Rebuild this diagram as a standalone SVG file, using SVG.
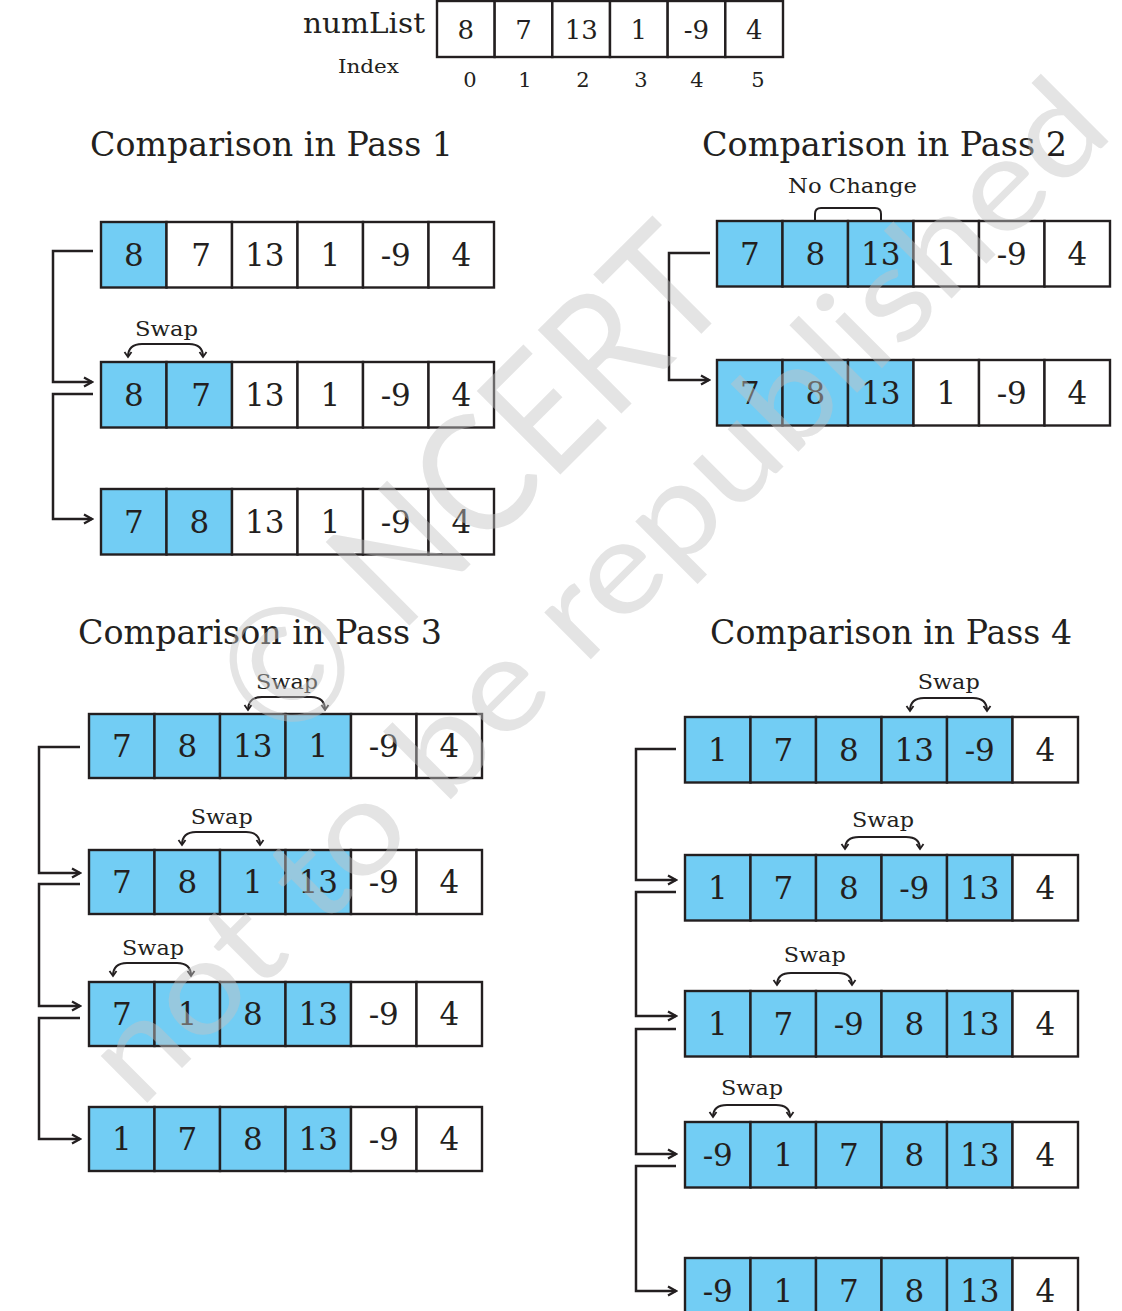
<svg xmlns="http://www.w3.org/2000/svg" xmlns:xlink="http://www.w3.org/1999/xlink" width="1122" height="1311" viewBox="0 0 1122 1311">
<style>
.cell{stroke:#231f20;stroke-width:2.4}
.b{fill:#72cdf4}
.w{fill:#ffffff}
.num{font-family:"DejaVu Serif",serif;font-size:31px;fill:#231f20;text-anchor:middle}
.tnum{font-family:"DejaVu Serif",serif;font-size:26px;fill:#231f20;text-anchor:middle}
.idx{font-family:"DejaVu Serif",serif;font-size:21px;fill:#231f20;text-anchor:middle}
.head{font-family:"DejaVu Serif",serif;font-size:33px;fill:#231f20}
.lbl{font-family:"DejaVu Serif",serif;font-size:21px;fill:#231f20;text-anchor:middle}
.conn{fill:none;stroke:#231f20;stroke-width:2.5}
.br{fill:none;stroke:#231f20;stroke-width:2}
.wm{font-family:"Lato","DejaVu Sans",sans-serif;font-weight:400;fill:#c4c4c4;opacity:0.45}
</style>
<defs>
<marker id="arr" viewBox="-10 -6 12 12" refX="0" refY="0" markerWidth="12" markerHeight="12" markerUnits="userSpaceOnUse" orient="auto">
<path d="M-8,-4.5 L0,0 L-8,4.5" fill="none" stroke="#231f20" stroke-width="2.2"/>
</marker>
<marker id="sarr" viewBox="-8 -5 10 10" refX="0" refY="0" markerWidth="10" markerHeight="10" markerUnits="userSpaceOnUse" orient="auto-start-reverse">
<path d="M-5,-3.5 L0,0 L-5,3.5" fill="none" stroke="#231f20" stroke-width="1.8"/>
</marker>
</defs>
<rect width="1122" height="1311" fill="#ffffff"/>

<g id="numList">
<text x="303" y="33" class="head" style="font-size:28px" textLength="122" lengthAdjust="spacingAndGlyphs">numList</text>
<text x="338" y="73" class="head" style="font-size:19px" textLength="61" lengthAdjust="spacingAndGlyphs">Index</text>
<g transform="translate(437,1)">
<rect class="cell w" x="0" y="0" width="57.67" height="56"/>
<rect class="cell w" x="57.67" y="0" width="57.67" height="56"/>
<rect class="cell w" x="115.33" y="0" width="57.67" height="56"/>
<rect class="cell w" x="173" y="0" width="57.67" height="56"/>
<rect class="cell w" x="230.67" y="0" width="57.67" height="56"/>
<rect class="cell w" x="288.33" y="0" width="57.67" height="56"/>
<text class="tnum" x="28.8" y="38">8</text>
<text class="tnum" x="86.5" y="38">7</text>
<text class="tnum" x="144.2" y="38">13</text>
<text class="tnum" x="201.8" y="38">1</text>
<text class="tnum" x="259.5" y="38">-9</text>
<text class="tnum" x="317.2" y="38">4</text>
</g>
<text class="idx" x="470" y="87">0</text>
<text class="idx" x="525" y="87">1</text>
<text class="idx" x="583" y="87">2</text>
<text class="idx" x="641" y="87">3</text>
<text class="idx" x="697" y="87">4</text>
<text class="idx" x="758" y="87">5</text>
</g>

<g id="headings">
<text class="head" x="90" y="156" textLength="363" lengthAdjust="spacingAndGlyphs">Comparison in Pass 1</text>
<text class="head" x="702" y="156" textLength="365" lengthAdjust="spacingAndGlyphs">Comparison in Pass 2</text>
<text class="head" x="78" y="644" textLength="364" lengthAdjust="spacingAndGlyphs">Comparison in Pass 3</text>
<text class="head" x="710" y="644" textLength="362" lengthAdjust="spacingAndGlyphs">Comparison in Pass 4</text>
</g>

<!-- Pass 1 -->
<g id="p1r1" transform="translate(101,222)">
<rect class="cell b" x="0" width="65.5" height="65.5"/><rect class="cell w" x="65.5" width="65.5" height="65.5"/><rect class="cell w" x="131" width="65.5" height="65.5"/><rect class="cell w" x="196.5" width="65.5" height="65.5"/><rect class="cell w" x="262" width="65.5" height="65.5"/><rect class="cell w" x="327.5" width="65.5" height="65.5"/>
<text class="num" x="32.75" y="44">8</text><text class="num" x="100" y="44">7</text><text class="num" x="163.75" y="44">13</text><text class="num" x="229.25" y="44">1</text><text class="num" x="294.75" y="44">-9</text><text class="num" x="360.25" y="44">4</text>
</g>
<g id="p1r2" transform="translate(101,362)">
<rect class="cell b" x="0" width="65.5" height="65.5"/><rect class="cell b" x="65.5" width="65.5" height="65.5"/><rect class="cell w" x="131" width="65.5" height="65.5"/><rect class="cell w" x="196.5" width="65.5" height="65.5"/><rect class="cell w" x="262" width="65.5" height="65.5"/><rect class="cell w" x="327.5" width="65.5" height="65.5"/>
<text class="num" x="32.75" y="44">8</text><text class="num" x="100" y="44">7</text><text class="num" x="163.75" y="44">13</text><text class="num" x="229.25" y="44">1</text><text class="num" x="294.75" y="44">-9</text><text class="num" x="360.25" y="44">4</text>
</g>
<g id="p1r3" transform="translate(101,489)">
<rect class="cell b" x="0" width="65.5" height="65.5"/><rect class="cell b" x="65.5" width="65.5" height="65.5"/><rect class="cell w" x="131" width="65.5" height="65.5"/><rect class="cell w" x="196.5" width="65.5" height="65.5"/><rect class="cell w" x="262" width="65.5" height="65.5"/><rect class="cell w" x="327.5" width="65.5" height="65.5"/>
<text class="num" x="32.75" y="44">7</text><text class="num" x="98.25" y="44">8</text><text class="num" x="163.75" y="44">13</text><text class="num" x="229.25" y="44">1</text><text class="num" x="294.75" y="44">-9</text><text class="num" x="360.25" y="44">4</text>
</g>

<!-- Pass 2 -->
<g id="p2r1" transform="translate(717,221)">
<rect class="cell b" x="0" width="65.5" height="65.5"/><rect class="cell b" x="65.5" width="65.5" height="65.5"/><rect class="cell b" x="131" width="65.5" height="65.5"/><rect class="cell w" x="196.5" width="65.5" height="65.5"/><rect class="cell w" x="262" width="65.5" height="65.5"/><rect class="cell w" x="327.5" width="65.5" height="65.5"/>
<text class="num" x="32.75" y="44">7</text><text class="num" x="98.25" y="44">8</text><text class="num" x="163.75" y="44">13</text><text class="num" x="229.25" y="44">1</text><text class="num" x="294.75" y="44">-9</text><text class="num" x="360.25" y="44">4</text>
</g>
<g id="p2r2" transform="translate(717,360)">
<rect class="cell b" x="0" width="65.5" height="65.5"/><rect class="cell b" x="65.5" width="65.5" height="65.5"/><rect class="cell b" x="131" width="65.5" height="65.5"/><rect class="cell w" x="196.5" width="65.5" height="65.5"/><rect class="cell w" x="262" width="65.5" height="65.5"/><rect class="cell w" x="327.5" width="65.5" height="65.5"/>
<text class="num" x="32.75" y="44">7</text><text class="num" x="98.25" y="44">8</text><text class="num" x="163.75" y="44">13</text><text class="num" x="229.25" y="44">1</text><text class="num" x="294.75" y="44">-9</text><text class="num" x="360.25" y="44">4</text>
</g>

<!-- Pass 3 -->
<g id="p3r1" transform="translate(89,714)">
<rect class="cell b" x="0" width="65.5" height="64"/><rect class="cell b" x="65.5" width="65.5" height="64"/><rect class="cell b" x="131" width="65.5" height="64"/><rect class="cell b" x="196.5" width="65.5" height="64"/><rect class="cell w" x="262" width="65.5" height="64"/><rect class="cell w" x="327.5" width="65.5" height="64"/>
<text class="num" x="32.75" y="43">7</text><text class="num" x="98.25" y="43">8</text><text class="num" x="163.75" y="43">13</text><text class="num" x="229.25" y="43">1</text><text class="num" x="294.75" y="43">-9</text><text class="num" x="360.25" y="43">4</text>
</g>
<g id="p3r2" transform="translate(89,850)">
<rect class="cell b" x="0" width="65.5" height="64"/><rect class="cell b" x="65.5" width="65.5" height="64"/><rect class="cell b" x="131" width="65.5" height="64"/><rect class="cell b" x="196.5" width="65.5" height="64"/><rect class="cell w" x="262" width="65.5" height="64"/><rect class="cell w" x="327.5" width="65.5" height="64"/>
<text class="num" x="32.75" y="43">7</text><text class="num" x="98.25" y="43">8</text><text class="num" x="163.75" y="43">1</text><text class="num" x="229.25" y="43">13</text><text class="num" x="294.75" y="43">-9</text><text class="num" x="360.25" y="43">4</text>
</g>
<g id="p3r3" transform="translate(89,982)">
<rect class="cell b" x="0" width="65.5" height="64"/><rect class="cell b" x="65.5" width="65.5" height="64"/><rect class="cell b" x="131" width="65.5" height="64"/><rect class="cell b" x="196.5" width="65.5" height="64"/><rect class="cell w" x="262" width="65.5" height="64"/><rect class="cell w" x="327.5" width="65.5" height="64"/>
<text class="num" x="32.75" y="43">7</text><text class="num" x="98.25" y="43">1</text><text class="num" x="163.75" y="43">8</text><text class="num" x="229.25" y="43">13</text><text class="num" x="294.75" y="43">-9</text><text class="num" x="360.25" y="43">4</text>
</g>
<g id="p3r4" transform="translate(89,1107)">
<rect class="cell b" x="0" width="65.5" height="64"/><rect class="cell b" x="65.5" width="65.5" height="64"/><rect class="cell b" x="131" width="65.5" height="64"/><rect class="cell b" x="196.5" width="65.5" height="64"/><rect class="cell w" x="262" width="65.5" height="64"/><rect class="cell w" x="327.5" width="65.5" height="64"/>
<text class="num" x="32.75" y="43">1</text><text class="num" x="98.25" y="43">7</text><text class="num" x="163.75" y="43">8</text><text class="num" x="229.25" y="43">13</text><text class="num" x="294.75" y="43">-9</text><text class="num" x="360.25" y="43">4</text>
</g>

<!-- Pass 4 -->
<g id="p4r1" transform="translate(685,717)">
<rect class="cell b" x="0" width="65.5" height="65.5"/><rect class="cell b" x="65.5" width="65.5" height="65.5"/><rect class="cell b" x="131" width="65.5" height="65.5"/><rect class="cell b" x="196.5" width="65.5" height="65.5"/><rect class="cell b" x="262" width="65.5" height="65.5"/><rect class="cell w" x="327.5" width="65.5" height="65.5"/>
<text class="num" x="32.75" y="44">1</text><text class="num" x="98.25" y="44">7</text><text class="num" x="163.75" y="44">8</text><text class="num" x="229.25" y="44">13</text><text class="num" x="294.75" y="44">-9</text><text class="num" x="360.25" y="44">4</text>
</g>
<g id="p4r2" transform="translate(685,855)">
<rect class="cell b" x="0" width="65.5" height="65.5"/><rect class="cell b" x="65.5" width="65.5" height="65.5"/><rect class="cell b" x="131" width="65.5" height="65.5"/><rect class="cell b" x="196.5" width="65.5" height="65.5"/><rect class="cell b" x="262" width="65.5" height="65.5"/><rect class="cell w" x="327.5" width="65.5" height="65.5"/>
<text class="num" x="32.75" y="44">1</text><text class="num" x="98.25" y="44">7</text><text class="num" x="163.75" y="44">8</text><text class="num" x="229.25" y="44">-9</text><text class="num" x="294.75" y="44">13</text><text class="num" x="360.25" y="44">4</text>
</g>
<g id="p4r3" transform="translate(685,991)">
<rect class="cell b" x="0" width="65.5" height="65.5"/><rect class="cell b" x="65.5" width="65.5" height="65.5"/><rect class="cell b" x="131" width="65.5" height="65.5"/><rect class="cell b" x="196.5" width="65.5" height="65.5"/><rect class="cell b" x="262" width="65.5" height="65.5"/><rect class="cell w" x="327.5" width="65.5" height="65.5"/>
<text class="num" x="32.75" y="44">1</text><text class="num" x="98.25" y="44">7</text><text class="num" x="163.75" y="44">-9</text><text class="num" x="229.25" y="44">8</text><text class="num" x="294.75" y="44">13</text><text class="num" x="360.25" y="44">4</text>
</g>
<g id="p4r4" transform="translate(685,1122)">
<rect class="cell b" x="0" width="65.5" height="65.5"/><rect class="cell b" x="65.5" width="65.5" height="65.5"/><rect class="cell b" x="131" width="65.5" height="65.5"/><rect class="cell b" x="196.5" width="65.5" height="65.5"/><rect class="cell b" x="262" width="65.5" height="65.5"/><rect class="cell w" x="327.5" width="65.5" height="65.5"/>
<text class="num" x="32.75" y="44">-9</text><text class="num" x="98.25" y="44">1</text><text class="num" x="163.75" y="44">7</text><text class="num" x="229.25" y="44">8</text><text class="num" x="294.75" y="44">13</text><text class="num" x="360.25" y="44">4</text>
</g>
<g id="p4r5" transform="translate(685,1258)">
<rect class="cell b" x="0" width="65.5" height="65.5"/><rect class="cell b" x="65.5" width="65.5" height="65.5"/><rect class="cell b" x="131" width="65.5" height="65.5"/><rect class="cell b" x="196.5" width="65.5" height="65.5"/><rect class="cell b" x="262" width="65.5" height="65.5"/><rect class="cell w" x="327.5" width="65.5" height="65.5"/>
<text class="num" x="32.75" y="44">-9</text><text class="num" x="98.25" y="44">1</text><text class="num" x="163.75" y="44">7</text><text class="num" x="229.25" y="44">8</text><text class="num" x="294.75" y="44">13</text><text class="num" x="360.25" y="44">4</text>
</g>

<g id="labels">
<text class="lbl" x="852.5" y="193" textLength="129" lengthAdjust="spacingAndGlyphs">No Change</text>
<text class="lbl" x="166.5" y="336" textLength="63" lengthAdjust="spacingAndGlyphs">Swap</text>
<text class="lbl" x="287" y="689" textLength="62" lengthAdjust="spacingAndGlyphs">Swap</text>
<text class="lbl" x="221.7" y="824" textLength="62" lengthAdjust="spacingAndGlyphs">Swap</text>
<text class="lbl" x="153" y="955" textLength="62" lengthAdjust="spacingAndGlyphs">Swap</text>
<text class="lbl" x="948.7" y="689" textLength="62" lengthAdjust="spacingAndGlyphs">Swap</text>
<text class="lbl" x="883" y="827" textLength="62" lengthAdjust="spacingAndGlyphs">Swap</text>
<text class="lbl" x="814.7" y="962" textLength="62" lengthAdjust="spacingAndGlyphs">Swap</text>
<text class="lbl" x="752" y="1095" textLength="62" lengthAdjust="spacingAndGlyphs">Swap</text>
</g>

<g id="brackets">
<path class="br" d="M815,221 V214 Q815,208 821,208 H875 Q881,208 881,214 V221"/>
<path class="br" d="M128,357 Q128,344 142,344 H189 Q203,344 203,357" marker-start="url(#sarr)" marker-end="url(#sarr)"/>
<path class="br" d="M248,710 Q248,697 262,697 H311 Q325,697 325,710" marker-start="url(#sarr)" marker-end="url(#sarr)"/>
<path class="br" d="M182,845 Q182,832 196,832 H246 Q260,832 260,845" marker-start="url(#sarr)" marker-end="url(#sarr)"/>
<path class="br" d="M113,976 Q113,963 127,963 H177 Q191,963 191,976" marker-start="url(#sarr)" marker-end="url(#sarr)"/>
<path class="br" d="M910,711 Q910,698 924,698 H973 Q987,698 987,711" marker-start="url(#sarr)" marker-end="url(#sarr)"/>
<path class="br" d="M845,849 Q845,837 859,837 H906 Q920,837 920,849" marker-start="url(#sarr)" marker-end="url(#sarr)"/>
<path class="br" d="M777,985 Q777,973 791,973 H838 Q852,973 852,985" marker-start="url(#sarr)" marker-end="url(#sarr)"/>
<path class="br" d="M713,1117 Q713,1105 727,1105 H776 Q790,1105 790,1117" marker-start="url(#sarr)" marker-end="url(#sarr)"/>
</g>

<g id="connectors">
<path class="conn" d="M93,251 H53 V382 H92" marker-end="url(#arr)"/>
<path class="conn" d="M93,394 H53 V519 H92" marker-end="url(#arr)"/>
<path class="conn" d="M710,253 H669 V380 H709" marker-end="url(#arr)"/>
<path class="conn" d="M80,747 H39 V873 H80" marker-end="url(#arr)"/>
<path class="conn" d="M80,884 H39 V1006 H80" marker-end="url(#arr)"/>
<path class="conn" d="M80,1018 H39 V1139 H80" marker-end="url(#arr)"/>
<path class="conn" d="M676,749 H636 V880 H676" marker-end="url(#arr)"/>
<path class="conn" d="M676,892 H636 V1016 H676" marker-end="url(#arr)"/>
<path class="conn" d="M676,1029 H636 V1154 H676" marker-end="url(#arr)"/>
<path class="conn" d="M676,1166 H636 V1291 H676" marker-end="url(#arr)"/>
</g>

<g id="watermark">
<text class="wm" transform="translate(285,750) rotate(-45)" style="font-size:165px" textLength="640" lengthAdjust="spacingAndGlyphs">© NCERT</text>
<text class="wm" transform="translate(140,1110) rotate(-45)" style="font-size:130px" textLength="1380" lengthAdjust="spacingAndGlyphs">not to be republished</text>
</g>
</svg>
